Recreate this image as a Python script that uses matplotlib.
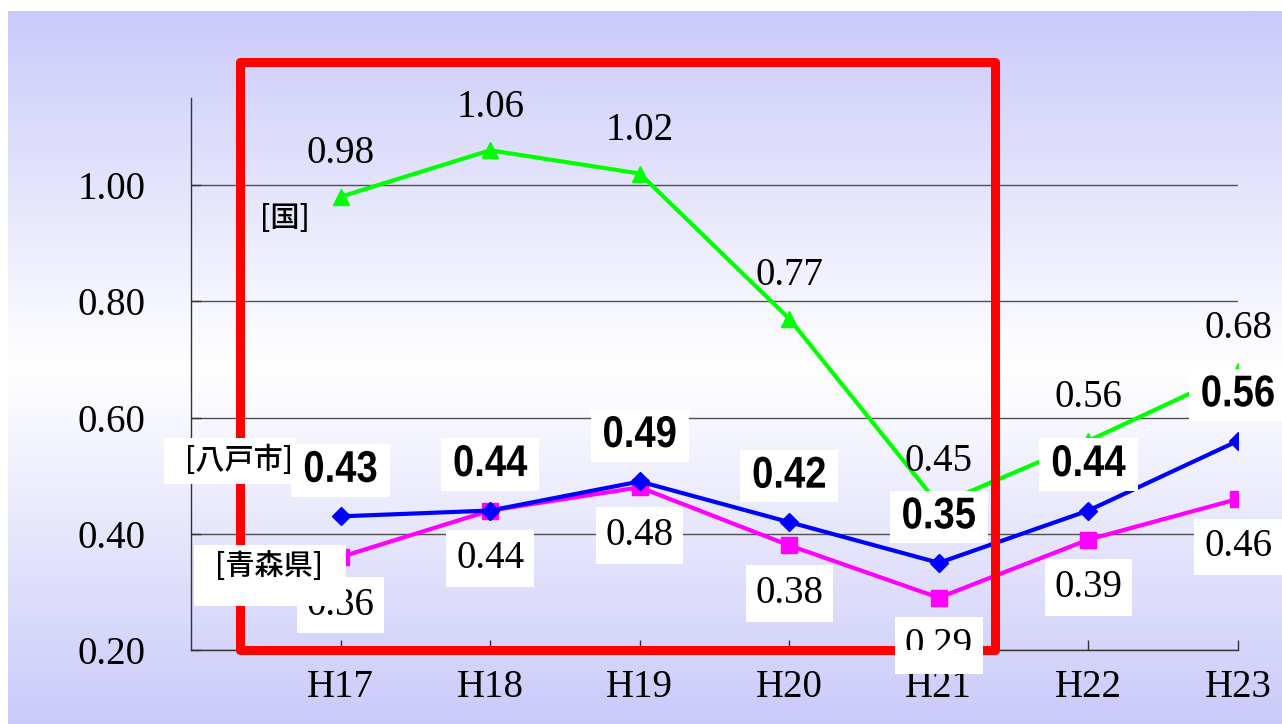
import numpy as np
import matplotlib
matplotlib.use("Agg")
import matplotlib.pyplot as plt
from matplotlib import font_manager
from matplotlib.patches import Rectangle
from matplotlib.patheffects import AbstractPathEffect
from matplotlib.transforms import Affine2D, Bbox, TransformedBbox

# ---- data -------------------------------------------------------------
years = ["H17", "H18", "H19", "H20", "H21", "H22", "H23"]
national = [0.98, 1.06, 1.02, 0.77, 0.45, 0.56, 0.68]    # [国]
hachinohe = [0.43, 0.44, 0.49, 0.42, 0.35, 0.44, 0.56]   # [八戸市]
aomori = [0.36, 0.44, 0.48, 0.38, 0.29, 0.39, 0.46]      # [青森県]
y_ticks = [0.20, 0.40, 0.60, 0.80, 1.00]


def pick(names):
    for n in names:
        try:
            font_manager.findfont(font_manager.FontProperties(family=n),
                                  fallback_to_default=False)
            return n
        except Exception:
            pass
    return "DejaVu Sans"


class Condensed(AbstractPathEffect):
    """Draw text squeezed horizontally around its own centre."""

    def __init__(self, sx=0.86, sy=1.0):
        super().__init__()
        self.sx, self.sy = sx, sy

    def draw_path(self, renderer, gc, tpath, affine, rgbFace=None):
        ext = tpath.get_extents(affine)
        cx, cy = (ext.x0 + ext.x1) / 2, (ext.y0 + ext.y1) / 2
        squeeze = (Affine2D().translate(-cx, -cy)
                   .scale(self.sx, self.sy).translate(cx, cy))
        renderer.draw_path(gc, tpath, affine + squeeze, rgbFace)


SERIF = pick(["Liberation Serif", "DejaVu Serif"])
BOLD = pick(["Liberation Sans Narrow", "Liberation Sans"])
CJK = ["Noto Sans CJK JP", "DejaVu Sans"]

W, H = 1282, 724
fig = plt.figure(figsize=(W / 100, H / 100), dpi=100)
fig.patch.set_facecolor("white")

# ---- vertical gradient backdrop ---------------------------------------
bg = fig.add_axes([8 / W, 0, 1 - 8 / W, 1 - 11 / H], zorder=-10)
t = np.linspace(0, 1, 500)
w = 1 - np.abs(t - 0.5) * 2
edge = np.array([202, 202, 250]) / 255
grad = edge[None, :] + (1 - edge[None, :]) * w[:, None]
bg.imshow(grad[:, None, :], aspect="auto", extent=[0, 1, 0, 1])
bg.axis("off")

# ---- main axes --------------------------------------------------------
ax_bottom = 1 - 650 / H
ax = fig.add_axes([191 / W, ax_bottom, (1238 - 191) / W, (650 - 98) / H])
ax.set_facecolor("none")
x = np.arange(len(years))

ax.plot(x, national, color="#00ff00", lw=3, marker="^", ms=12, zorder=3)
ax.plot(x, aomori, color="#ff00ff", lw=3, marker="s", ms=12, zorder=4)
ax.plot(x, hachinohe, color="#0000ff", lw=3, marker="D", ms=9, zorder=5)

# highlight frame
frame = Rectangle((240 / W, 1 - 650 / H), (995 - 240) / W, (650 - 61.5) / H,
                  transform=fig.transFigure, fill=False, ec="#ff0000", lw=6.5,
                  joinstyle="round", zorder=6)
ax.add_patch(frame)
frame.set_clip_on(False)

# value labels
for i, v in enumerate(national):
    ax.annotate(f"{v:.2f}", (i, v), xytext=(0, 43), textcoords="offset pixels",
                ha="center", va="center", fontsize=28, family=SERIF,
                color="black", zorder=7)

for i, v in enumerate(hachinohe):
    ax.annotate(f"{v:.2f}", (i, v), xytext=(0, 46), textcoords="offset pixels",
                ha="center", va="center", fontsize=32, family=BOLD,
                fontweight="bold", color="black", zorder=8,
                path_effects=[Condensed(0.86, 1.0)],
                bbox=dict(boxstyle="square,pad=0.13", fc="white", ec="none"))

# text below the x-axis line is cut off, the white boxes are not
below_axis_clip = TransformedBbox(Bbox([[0, ax_bottom], [1, 1]]),
                                  fig.transFigure)
for i, v in enumerate(aomori):
    ax.annotate(f"{v:.2f}", (i, v), xytext=(0, -48), textcoords="offset pixels",
                ha="center", va="center", fontsize=28, family=SERIF,
                color="none", zorder=8,
                bbox=dict(boxstyle="square,pad=0.25", fc="white", ec="none"))
    lab = ax.annotate(f"{v:.2f}", (i, v), xytext=(0, -48),
                      textcoords="offset pixels", ha="center", va="center",
                      fontsize=28, family=SERIF, color="black", zorder=9)
    lab.set_clip_on(True)
    lab.set_clip_box(below_axis_clip)

# axes styling
ax.set_xlim(-1, len(years) - 1)
ax.set_ylim(0.20, 1.15)
ax.set_xticks(x, years)
ax.set_yticks(y_ticks, [f"{v:.2f}" for v in y_ticks])
ax.tick_params(axis="x", direction="in", length=7, width=1, color="#333333",
               pad=14, labelsize=28)
ax.tick_params(axis="y", direction="in", length=7, width=1, color="#333333",
               pad=33, labelsize=28)
for lbl in ax.get_xticklabels() + ax.get_yticklabels():
    lbl.set_fontfamily(SERIF)
ax.yaxis.grid(True, color="#505050", lw=1.0)
ax.set_axisbelow(True)
for s in ("top", "right"):
    ax.spines[s].set_visible(False)
for s in ("left", "bottom"):
    ax.spines[s].set_color("#333333")
    ax.spines[s].set_linewidth(1.0)

# series names
fig.text(285 / W, 1 - 218 / H, "[国]", ha="center", va="center",
         fontsize=21, family=CJK, fontweight="medium", zorder=10)
fig.add_artist(Rectangle((164 / W, 1 - 484 / H), 132 / W, 46 / H,
                         transform=fig.transFigure, fc="white", ec="none",
                         zorder=9))
fig.text(239 / W, 1 - 461 / H, "[八戸市]", ha="center", va="center",
         fontsize=21, family=CJK, fontweight="medium", zorder=10)
fig.add_artist(Rectangle((194 / W, 1 - 606 / H), 152 / W, 61 / H,
                         transform=fig.transFigure, fc="white", ec="none",
                         zorder=9))
fig.text(269 / W, 1 - 567 / H, "[青森県]", ha="center", va="center",
         fontsize=21, family=CJK, fontweight="medium", zorder=10)

fig.savefig("out.png", dpi=100)
